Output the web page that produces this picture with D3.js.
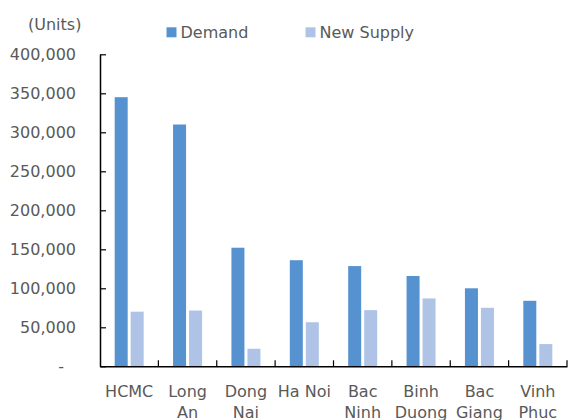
<!DOCTYPE html>
<html>
<head>
<meta charset="utf-8">
<script src="https://cdn.jsdelivr.net/npm/d3@7"></script>
<style>
  html, body { margin: 0; padding: 0; background: #fff; }
  svg { display: block; }
  svg text { font-family: "DejaVu Sans", Verdana, sans-serif; }
</style>
</head>
<body>
<svg id="chart" width="569" height="420"></svg>
<script>
// Housing demand vs. new supply by province (units)
const categories = ["HCMC", "Long An", "Dong Nai", "Ha Noi", "Bac Ninh", "Binh Duong", "Bac Giang", "Vinh Phuc"];
const demand = [345000, 310000, 152000, 136000, 128500, 115800, 100000, 84000];
const newSupply = [70000, 71500, 22500, 56500, 72000, 87000, 75000, 28500];
const seriesNames = ["Demand", "New Supply"];
const seriesColors = ["#5692CF", "#AFC3E6"];
const yTicks = [0, 50000, 100000, 150000, 200000, 250000, 300000, 350000, 400000];

const svg = d3.select("#chart");
const textColor = "#595959";
const fontFamily = "'DejaVu Sans', Verdana, sans-serif";
const plotLeft = 100, plotRight = 567, plotBottom = 366.3, plotTop = 54.3;

const x = d3.scaleBand().domain(categories).range([plotLeft, plotRight]);
const y = d3.scaleLinear().domain([0, 400000]).range([plotBottom, plotTop]);

const series = [demand, newSupply];
const barW = 13, gap = 3;
const groupW = barW * 2 + gap;

// bars
series.forEach((vals, si) => {
  svg.append("g")
    .selectAll("rect")
    .data(categories.map((c, i) => ({ c, v: vals[i] })))
    .join("rect")
    .attr("x", d => x(d.c) + (x.bandwidth() - groupW) / 2 + si * (barW + gap))
    .attr("y", d => y(d.v))
    .attr("width", barW)
    .attr("height", d => y(0) - y(d.v))
    .attr("fill", seriesColors[si]);
});

// y axis with inside ticks; zero shown as a dash
const fmt = d3.format(",");
const yAxis = svg.append("g")
  .attr("transform", `translate(${plotLeft},0)`)
  .call(d3.axisLeft(y).tickValues(yTicks).tickSizeInner(-6).tickSizeOuter(0).tickPadding(24)
    .tickFormat(d => d === 0 ? "-" : fmt(d)));
yAxis.attr("font-family", fontFamily).attr("font-size", 16);
yAxis.select(".domain").attr("stroke", "#000").attr("stroke-width", 1.5);
yAxis.selectAll(".tick line").attr("stroke", "#000").attr("stroke-width", 1.2);
yAxis.selectAll(".tick text")
  .attr("fill", textColor)
  .attr("x", d => d === 0 ? -36 : -24);

// x axis baseline
const xAxis = svg.append("g")
  .attr("transform", `translate(0,${plotBottom})`)
  .call(d3.axisBottom(x).tickSize(0).tickPadding(0).tickFormat(""));
xAxis.select(".domain").attr("stroke", "#000").attr("stroke-width", 1.5);
// category separators (inside ticks)
const bounds = categories.map(c => x(c) + x.bandwidth());
svg.append("g").selectAll("line").data(bounds).join("line")
  .attr("x1", d => d).attr("x2", d => d)
  .attr("y1", plotBottom).attr("y2", plotBottom - 6)
  .attr("stroke", "#000").attr("stroke-width", 1.2);

// category labels, wrapped to band width
const labels = svg.append("g").attr("fill", textColor).attr("font-size", 16).attr("text-anchor", "middle");
categories.forEach(c => {
  const cx = x(c) + x.bandwidth() / 2;
  const t = labels.append("text").attr("x", cx).attr("y", 397);
  t.text(c);
  if (t.node().getComputedTextLength() > x.bandwidth()) {
    t.text(null);
    c.split(" ").forEach((w, i) => {
      t.append("tspan").attr("x", cx).attr("dy", i === 0 ? 0 : 21).text(w);
    });
  }
});

// unit label
svg.append("text").attr("x", 28).attr("y", 30).attr("fill", textColor)
  .attr("font-size", 16).text("(Units)");

// legend
const legendX = [166.5, 305.5];
seriesNames.forEach((n, i) => {
  svg.append("rect").attr("x", legendX[i]).attr("y", 27.3).attr("width", 10).attr("height", 10)
    .attr("fill", seriesColors[i]);
  svg.append("text").attr("x", legendX[i] + 14).attr("y", 38).attr("fill", textColor)
    .attr("font-size", 16).text(n);
});
</script>
</body>
</html>
